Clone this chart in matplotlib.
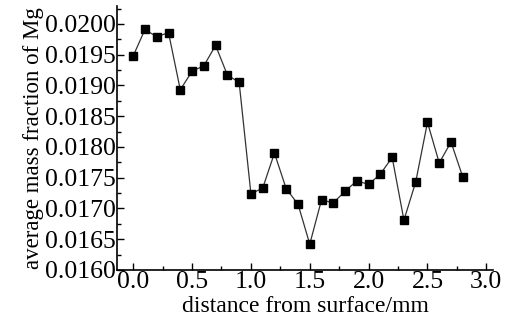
import matplotlib
matplotlib.use("Agg")
import matplotlib.pyplot as plt
from matplotlib.ticker import MultipleLocator, FormatStrFormatter

distance = [0.0, 0.1, 0.2, 0.3, 0.4, 0.5, 0.6, 0.7, 0.8, 0.9,
            1.0, 1.1, 1.2, 1.3, 1.4, 1.5, 1.6, 1.7, 1.8, 1.9,
            2.0, 2.1, 2.2, 2.3, 2.4, 2.5, 2.6, 2.7, 2.8]
mg_fraction = [0.01948, 0.01991, 0.01979, 0.01986, 0.01893, 0.01923, 0.01932, 0.01965, 0.01917, 0.01905,
               0.01724, 0.01733, 0.01790, 0.01732, 0.01707, 0.01642, 0.01714, 0.01709, 0.01728, 0.01745,
               0.01739, 0.01756, 0.01783, 0.01681, 0.01743, 0.01840, 0.01774, 0.01808, 0.01751]

plt.rcParams['font.family'] = ['Liberation Serif', 'DejaVu Serif']

fig = plt.figure(figsize=(5.14, 3.21), dpi=100)
ax = fig.add_axes([0.228, 0.159, 0.731, 0.822])

ax.plot(distance, mg_fraction, color='#333333', linewidth=0.9,
        marker='s', markersize=5.5, markerfacecolor='black', markeredgecolor='black')

ax.set_xlim(-0.136, 3.056)
ax.set_ylim(0.0160, 0.02029)
ax.xaxis.set_major_locator(MultipleLocator(0.5))
ax.xaxis.set_minor_locator(MultipleLocator(0.25))
ax.yaxis.set_major_locator(MultipleLocator(0.0005))
ax.yaxis.set_minor_locator(MultipleLocator(0.00025))
ax.xaxis.set_major_formatter(FormatStrFormatter('%.1f'))
ax.yaxis.set_major_formatter(FormatStrFormatter('%.4f'))

for side in ('top', 'right'):
    ax.spines[side].set_visible(False)
for side in ('left', 'bottom'):
    ax.spines[side].set_linewidth(1.2)

ax.tick_params(which='both', direction='in', labelsize=18.5, width=1.0, pad=1)
ax.tick_params(which='major', length=5)
ax.tick_params(which='minor', length=3)

ax.set_xlabel('distance from surface/mm', fontsize=17, labelpad=2)
ax.set_ylabel('average mass fraction of Mg', fontsize=16.5, labelpad=1)

fig.savefig('out.png', dpi=100)
